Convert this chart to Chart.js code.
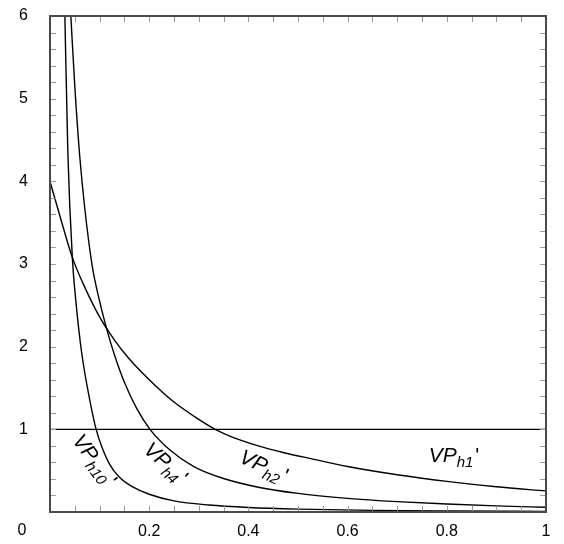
<!DOCTYPE html>
<html>
<head>
<meta charset="utf-8">
<script src="https://cdn.jsdelivr.net/npm/chart.js@4.4.0/dist/chart.umd.min.js"></script>
<style>
  html, body { margin: 0; padding: 0; background: #fff; }
  #wrap { width: 564px; height: 544px; }
</style>
</head>
<body>
<div id="wrap"><canvas id="chart" width="564" height="544"></canvas></div>
<script>
// values
const xH1 = [0, 1];
const yH1 = [1, 1];

const xH2 = [0, 0.02, 0.045, 0.07, 0.1, 0.13, 0.16, 0.2, 0.25, 0.3, 0.333, 0.37, 0.42, 0.47, 0.53, 0.6, 0.7, 0.8, 0.9, 1];
const yH2 = [4.0, 3.58, 3.08, 2.72, 2.36, 2.08, 1.85, 1.6, 1.33, 1.12, 1.0, 0.9, 0.8, 0.72, 0.64, 0.55, 0.45, 0.37, 0.305, 0.255];

const xH4 = [0.042, 0.05, 0.06, 0.07, 0.085, 0.1, 0.115, 0.13, 0.15, 0.175, 0.2016, 0.24, 0.29, 0.35, 0.42, 0.5, 0.6, 0.7, 0.8, 0.9, 1];
const yH4 = [6.0, 5.15, 4.3, 3.68, 2.98, 2.55, 2.2, 1.9, 1.57, 1.25, 1.0, 0.76, 0.55, 0.405, 0.3, 0.225, 0.165, 0.125, 0.096, 0.074, 0.057];

const xH10 = [0.030, 0.036, 0.045, 0.052, 0.064, 0.08, 0.093, 0.105, 0.12, 0.14, 0.165, 0.2, 0.25, 0.32, 0.4, 0.5, 0.65, 0.8, 1];
const yH10 = [6.0, 4.35, 3.08, 2.56, 1.92, 1.36, 1.0, 0.78, 0.58, 0.42, 0.31, 0.215, 0.135, 0.085, 0.055, 0.035, 0.02, 0.013, 0.008];

const xTickLabels = ['0.2', '0.4', '0.6', '0.8', '1'];
const yTickLabels = ['1', '2', '3', '4', '5', '6'];
const originLabel = '0';

const tickFont = { family: '"Liberation Sans", Arial, sans-serif', size: 16 };

function toPoints(xs, ys) {
    return xs.map((x, i) => ({ x: x, y: ys[i] }));
}

function curve(label, xs, ys) {
    return {
        label: label,
        data: toPoints(xs, ys),
        showLine: true,
        borderColor: '#000',
        borderWidth: 1.4,
        pointRadius: 0,
        cubicInterpolationMode: 'monotone',
        fill: false
    };
}

function drawTag(ctx, cx, cy, deg, sub) {
    const big = 'italic 21px "Liberation Sans", Arial, sans-serif';
    const small = 'italic 15px "Liberation Sans", Arial, sans-serif';
    ctx.save();
    ctx.translate(cx, cy);
    ctx.rotate(deg * Math.PI / 180);
    ctx.fillStyle = '#000';
    ctx.textBaseline = 'alphabetic';
    ctx.textAlign = 'left';
    ctx.font = big;
    const w1 = ctx.measureText('VP').width;
    ctx.font = small;
    const w2 = ctx.measureText(sub).width;
    ctx.font = big;
    const w3 = ctx.measureText("'").width;
    const x0 = -(w1 + w2 + w3 + 2) / 2;
    ctx.font = big;
    ctx.fillText('VP', x0, 7);
    ctx.font = small;
    ctx.fillText(sub, x0 + w1, 12);
    ctx.font = '21px "Liberation Sans", Arial, sans-serif';
    ctx.fillText("'", x0 + w1 + w2 + 2, 7);
    ctx.restore();
}

const framePlugin = {
    id: 'frame',
    afterDraw(chart) {
        const ctx = chart.ctx;
        const a = chart.chartArea;
        const sx = chart.scales.x;
        const sy = chart.scales.y;
        const len = 6;

        ctx.save();
        ctx.strokeStyle = '#999';
        ctx.lineWidth = 1;
        ctx.beginPath();
        sx.ticks.forEach(t => {
            const px = Math.round(sx.getPixelForValue(t.value)) + 0.5;
            if (px <= a.left + 1 || px >= a.right - 1) return;
            ctx.moveTo(px, a.bottom);
            ctx.lineTo(px, a.bottom - len);
            ctx.moveTo(px, a.top);
            ctx.lineTo(px, a.top + len);
        });
        sy.ticks.forEach(t => {
            const py = Math.round(sy.getPixelForValue(t.value)) + 0.5;
            if (py <= a.top + 1 || py >= a.bottom - 1) return;
            ctx.moveTo(a.left, py);
            ctx.lineTo(a.left + len, py);
            ctx.moveTo(a.right, py);
            ctx.lineTo(a.right - len, py);
        });
        ctx.stroke();

        ctx.strokeStyle = '#4a4a4a';
        ctx.lineWidth = 2;
        ctx.strokeRect(a.left, a.top, a.right - a.left, a.bottom - a.top);

        ctx.fillStyle = '#000';
        ctx.font = '16px "Liberation Sans", Arial, sans-serif';
        ctx.textAlign = 'center';
        ctx.textBaseline = 'middle';
        ctx.fillText(originLabel, 22, 531);

        drawTag(ctx, 95, 460, 53, 'h10');
        drawTag(ctx, 166, 463, 42, 'h4');
        drawTag(ctx, 264, 466, 25, 'h2');
        drawTag(ctx, 454, 455, 0, 'h1');
        ctx.restore();
    }
};

new Chart(document.getElementById('chart'), {
    type: 'scatter',
    data: {
        datasets: [
            curve("VPh1'", xH1, yH1),
            curve("VPh2'", xH2, yH2),
            curve("VPh4'", xH4, yH4),
            curve("VPh10'", xH10, yH10)
        ]
    },
    options: {
        responsive: false,
        animation: false,
        layout: { padding: { left: 0, right: 18, top: 16, bottom: 0 } },
        plugins: {
            legend: { display: false },
            tooltip: { enabled: false }
        },
        scales: {
            x: {
                type: 'linear',
                min: 0,
                max: 1,
                grid: { display: false, drawTicks: false },
                border: { display: false },
                ticks: {
                    stepSize: 0.05,
                    autoSkip: false,
                    maxRotation: 0,
                    padding: 10,
                    color: '#000',
                    font: tickFont,
                    callback: function (v) {
                        const k = Math.round(v * 5);
                        if (k < 1 || Math.abs(v * 5 - k) > 1e-6) return '';
                        return xTickLabels[k - 1];
                    }
                },
                afterFit: function (s) {
                    s.height = 32;
                    s.paddingLeft = 0;
                    s.paddingRight = 0;
                }
            },
            y: {
                type: 'linear',
                min: 0,
                max: 6,
                grid: { display: false, drawTicks: false },
                border: { display: false },
                ticks: {
                    stepSize: 0.2,
                    autoSkip: false,
                    padding: 22,
                    color: '#000',
                    font: tickFont,
                    callback: function (v) {
                        const k = Math.round(v);
                        if (k < 1 || Math.abs(v - k) > 1e-6) return '';
                        return yTickLabels[k - 1];
                    }
                },
                afterFit: function (s) {
                    s.width = 50;
                    s.paddingTop = 0;
                    s.paddingBottom = 0;
                }
            }
        }
    },
    plugins: [framePlugin]
});
</script>
</body>
</html>
